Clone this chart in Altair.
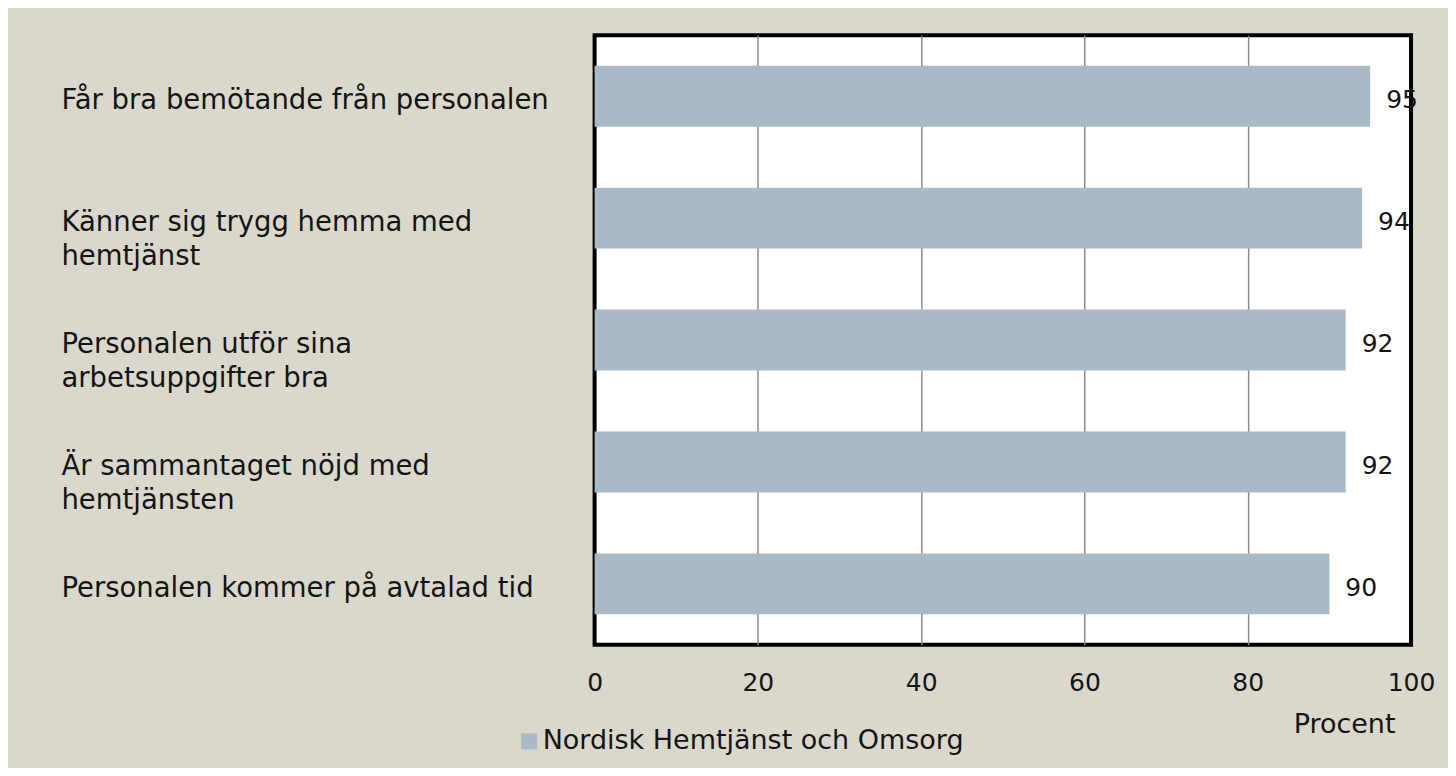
import altair as alt
import pandas as pd

categories = [
    "Får bra bemötande från personalen",
    "Känner sig trygg hemma med\nhemtjänst",
    "Personalen utför sina\narbetsuppgifter bra",
    "Är sammantaget nöjd med\nhemtjänsten",
    "Personalen kommer på avtalad tid",
]
values = [95, 94, 92, 92, 90]
series_name = "Nordisk Hemtjänst och Omsorg"
x_ticks = [0, 20, 40, 60, 80, 100]
x_title = "Procent"

df = pd.DataFrame({"cat": categories, "value": values, "series": [series_name] * len(values)})

FONT = "DejaVu Sans"
BAR = "#A7BAC6"
TXT = "#141414"

y_enc = alt.Y("cat:N", sort=categories, axis=None,
              scale=alt.Scale(paddingInner=0.5, paddingOuter=0.25))
x_enc = alt.X("value:Q", scale=alt.Scale(domain=[0, 100], nice=False),
              axis=alt.Axis(values=x_ticks, title=x_title, domain=False, ticks=False, tickSize=0,
                            labelFont=FONT, labelFontSize=25, labelColor=TXT,
                            labelBaseline="alphabetic", labelPadding=46, labelFlush=False,
                            gridColor={"condition": {"test": "datum.value == 0 || datum.value == 100",
                                                     "value": "transparent"},
                                       "value": "#8c8c8c"},
                            gridWidth=1.5,
                            titleFont=FONT, titleFontSize=27, titleFontWeight="normal", titleColor=TXT,
                            titleBaseline="alphabetic", titleAlign="center",
                            titleX=750, titleY=88))

bars = alt.Chart(df).mark_bar(size=61).encode(
    x=x_enc,
    y=y_enc,
    color=alt.Color("series:N", scale=alt.Scale(range=[BAR]),
                    legend=alt.Legend(title=None, orient="none", legendX=-79, legendY=693,
                                      symbolType="square", symbolSize=256, symbolStrokeWidth=0,
                                      symbolOpacity=1, labelFont=FONT, labelFontSize=27,
                                      labelColor=TXT, labelOffset=0, padding=0,
                                      labelLimit=600)),
)

value_labels = alt.Chart(df).mark_text(
    align="left", baseline="alphabetic", dx=16, dy=12, font=FONT, fontSize=25, color=TXT
).encode(x="value:Q", y=alt.Y("cat:N", sort=categories, axis=None), text="value:Q")

cat_labels = alt.Chart(df).mark_text(
    align="left", baseline="alphabetic", dy=13, font=FONT, fontSize=27.5, color=TXT,
    lineBreak="\n", lineHeight=34
).encode(x=alt.value(-533.5), y=alt.Y("cat:N", sort=categories, axis=None), text="cat:N")

chart = alt.layer(bars, value_labels, cat_labels).properties(
    width=817, height=610,
    autosize=alt.AutoSizeParams(type="none"),
    padding={"left": 587, "top": 27, "right": 37, "bottom": 123},
    background="#DAD8CC",
).configure_view(fill="white", stroke="black", strokeWidth=4)

chart.save("out.html", embed_options={"renderer": "svg", "actions": False})
